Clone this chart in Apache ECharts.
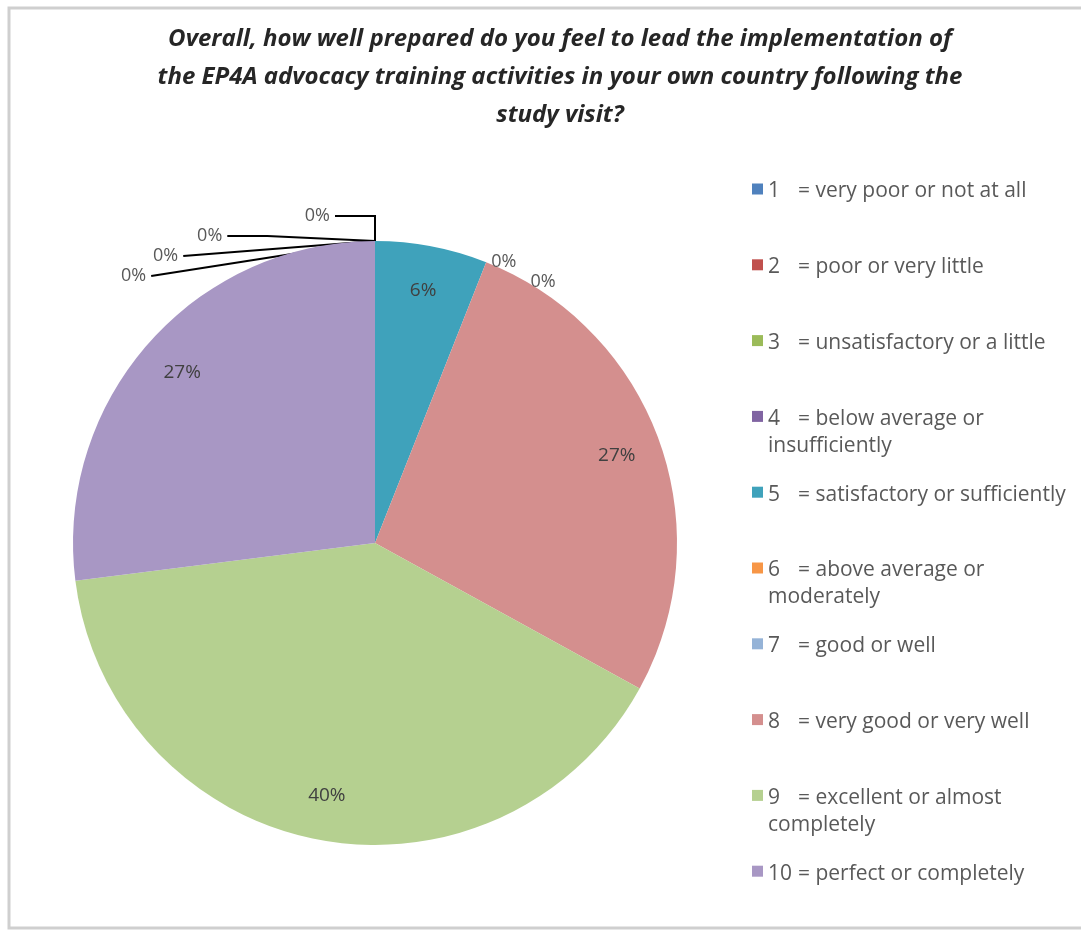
<!DOCTYPE html>
<html>
<head>
<meta charset="utf-8">
<script src="https://cdn.jsdelivr.net/npm/echarts@6/dist/echarts.min.js"></script>
<style>
  html, body { margin: 0; padding: 0; background: #fff; }
  #chart { width: 1081px; height: 937px; }
</style>
</head>
<body>
<div id="chart"></div>
<script>
var scoreList = ['1', '2', '3', '4', '5', '6', '7', '8', '9', '10'];
var meaningList = [
    'very poor or not at all',
    'poor or very little',
    'unsatisfactory or a little',
    'below average or\ninsufficiently',
    'satisfactory or sufficiently',
    'above average or\nmoderately',
    'good or well',
    'very good or very well',
    'excellent or almost\ncompletely',
    'perfect or completely'
];
var percentList = [0, 0, 0, 0, 6, 0, 0, 27, 40, 27];
var colorList = ['#4f81bd', '#c0504d', '#9bbb59', '#8064a2', '#3fa2bb',
    '#f79646', '#95b3d7', '#d48f8e', '#b5d090', '#a897c4'];

var fontName = '"Open Sans", Lato, sans-serif';

var chart = echarts.init(document.getElementById('chart'), null, {renderer: 'canvas'});

var pieData = [];
var labelData = [];
for (var i = 0; i < scoreList.length; i++) {
    var zero = percentList[i] === 0;
    // zero slices after the teal one sit right on the rim, no leader line
    var rim = zero && i > 4;
    pieData.push({
        name: scoreList[i],
        value: percentList[i],
        itemStyle: {color: colorList[i]},
        label: {show: zero},
        labelLine: rim ? {show: false, length: 0, length2: 0} : {show: zero}
    });
    labelData.push({
        name: scoreList[i],
        value: percentList[i],
        label: {show: !zero}
    });
}

// one legend per entry so rows are evenly spaced like the original
var legends = [];
for (var j = 0; j < scoreList.length; j++) {
    legends.push({
        data: [scoreList[j]],
        left: 747,
        top: 176 + j * 75.8,
        orient: 'vertical',
        icon: 'rect',
        itemWidth: 11,
        itemHeight: 11,
        itemGap: 0,
        selectedMode: false,
        formatter: function (name) {
            var k = scoreList.indexOf(name);
            var parts = meaningList[k].split('\n');
            var s = '{n|' + scoreList[k] + '}{t|= ' + parts[0] + '}';
            if (parts.length > 1) {
                s += '\n{t|' + parts[1] + '}';
            }
            return s;
        },
        textStyle: {
            color: '#595959',
            fontFamily: fontName,
            fontSize: 21,
            height: 22,
            rich: {
                n: {width: 30, fontSize: 21, color: '#595959', fontFamily: fontName, lineHeight: 27},
                t: {fontSize: 21, color: '#595959', fontFamily: fontName, lineHeight: 27}
            }
        }
    });
}

chart.setOption({
    backgroundColor: '#fff',
    animation: false,
    title: {
        text: 'Overall, how well prepared do you feel to lead the implementation of\nthe EP4A advocacy training activities in your own country following the\nstudy visit?',
        left: 555,
        textAlign: 'center',
        top: 15,
        textStyle: {
            fontFamily: fontName,
            fontSize: 24,
            fontStyle: 'italic',
            fontWeight: 'bold',
            color: '#262626',
            lineHeight: 38
        }
    },
    legend: legends,
    graphic: [{
        type: 'rect',
        shape: {x: 9, y: 8, width: 1100, height: 920},
        style: {fill: 'none', stroke: '#cfcfcf', lineWidth: 3},
        silent: true
    }],
    series: [
        {
            name: 'prepared',
            type: 'pie',
            center: [375, 543],
            radius: 302,
            startAngle: 90,
            clockwise: true,
            avoidLabelOverlap: true,
            data: pieData,
            itemStyle: {borderWidth: 0},
            label: {
                position: 'outside',
                formatter: function (p) { return Math.round(p.percent) + '%'; },
                fontFamily: fontName,
                fontSize: 18,
                color: '#595959'
            },
            labelLine: {
                length: 25,
                length2: 40,
                lineStyle: {color: '#000', width: 2}
            },
            emphasis: {disabled: true}
        },
        {
            name: 'labels',
            type: 'pie',
            center: [375, 543],
            radius: [206, 302],
            startAngle: 90,
            clockwise: true,
            silent: true,
            legendHoverLink: false,
            data: labelData,
            itemStyle: {color: 'rgba(0,0,0,0)', borderWidth: 0},
            label: {
                position: 'inside',
                formatter: function (p) { return Math.round(p.percent) + '%'; },
                fontFamily: fontName,
                fontSize: 19,
                color: '#404040'
            },
            labelLine: {show: false},
            emphasis: {disabled: true}
        }
    ]
});
</script>
</body>
</html>
